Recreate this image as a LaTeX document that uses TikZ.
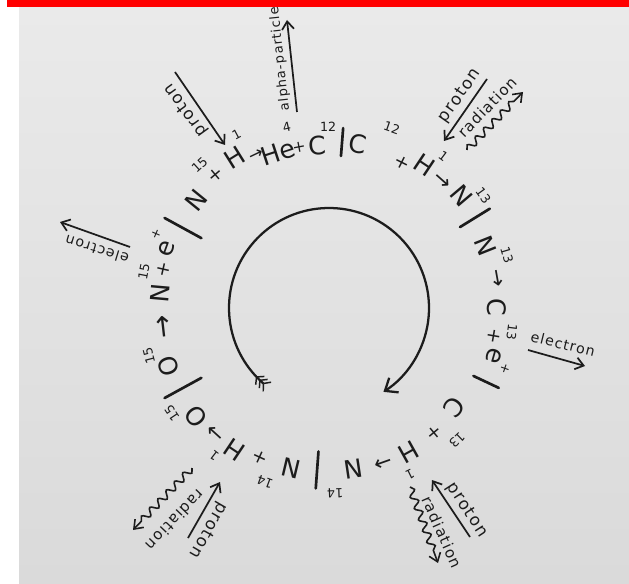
\documentclass[tikz,border=0pt]{standalone}
\usepackage{fontspec}
\setmainfont{DejaVu Sans}
\newfontfamily\labfont[LetterSpace=8]{DejaVu Sans}
\usetikzlibrary{arrows.meta,decorations.pathmorphing}
\definecolor{ink}{HTML}{1C1C1C}
\definecolor{papertop}{HTML}{EAEAEA}
\definecolor{paperbot}{HTML}{DADADA}
\newcommand\ringtok[5]{\node[#4, rotate={#2-90}] (#1) at (#2:#3) {#5};}
\newcommand\ringsep[4]{\draw[sepline] (#2:{#3-#4/2}) coordinate (#1a) -- (#2:{#3+#4/2}) coordinate (#1b);}
\newcommand\feather[1]{\begin{scope}[shift={(#1:100)}, rotate={#1-90}]\draw[ink, line width=1.1pt] (0,0) -- (-5,6) (0,0) -- (-5,-6);\end{scope}}
\begin{document}
\begin{tikzpicture}[x=0.75pt,y=0.75pt,
  big/.style={text=ink, inner sep=0pt, font=\fontsize{19}{19}\selectfont},
  plus/.style={text=ink, inner sep=0pt, font=\fontsize{14}{14}\selectfont},
  smallplus/.style={text=ink, inner sep=0pt, font=\fontsize{12}{12}\selectfont},
  arr/.style={text=ink, inner sep=0pt, font=\fontsize{16}{16}\selectfont},
  arrs/.style={text=ink, inner sep=0pt, font=\fontsize{13}{13}\selectfont},
  arrl/.style={text=ink, inner sep=0pt, font=\fontsize{21}{21}\selectfont},
  sm/.style={text=ink, inner sep=0pt, font=\fontsize{9.5}{9.5}\selectfont},
  sepline/.style={draw=ink, line width=2pt, line cap=round},
  lab/.style={text=ink, inner sep=0pt},
  ptr/.style={draw=ink, line width=1.3pt, -{Straight Barb[length=6pt,width=9pt]}},
  wavy/.style={draw=ink, line width=1.2pt, decorate, decoration={snake, amplitude=2.6pt, segment length=9pt, post length=6pt}, -{Straight Barb[length=6pt,width=9pt]}},
]
\useasboundingbox (0,0) rectangle (629,583);
% paper
\fill[white] (0,0) rectangle (629,583);
\shade[top color=papertop, bottom color=paperbot] (19,0) rectangle (629,576);
\fill[red] (7,576) rectangle (629,583);

\begin{scope}[shift={(329,275)}]
% ring of reactions (clockwise, tops outward)
\ringtok{n1}{108.1}{164}{big}{He}
\ringtok{s1}{103.1}{186}{sm}{4}
\ringtok{n2}{100.6}{163}{smallplus}{+}
\ringtok{n3}{94.2}{163}{big}{C}
\ringtok{s3}{90.3}{181}{sm}{12}
\ringsep{p1}{85.5}{166.5}{28}
\ringtok{n4}{80}{166.5}{big}{C}
\ringtok{s4}{70.8}{191}{sm}{12}
\ringtok{n5}{63.3}{163}{plus}{+}
\ringtok{n6}{56.3}{172}{big}{H}
\ringtok{s6}{53}{190}{sm}{1}
\ringtok{a6}{48.3}{170}{arr}{→}
\ringtok{n7}{40.3}{174}{big}{N}
\ringtok{s7}{36.1}{191}{sm}{13}
\ringsep{p2}{31.7}{171.5}{35}
\ringtok{n8}{21.7}{168}{big}{N}
\ringtok{s8}{16.6}{185.7}{sm}{13}
\ringtok{a8}{10}{170.5}{arr}{→}
\ringtok{n9}{0.3}{168}{big}{C}
\ringtok{s9}{-7.5}{184.6}{sm}{13}
\ringtok{n10}{-9.8}{167.7}{plus}{+}
\ringtok{n11}{-16.2}{171.6}{big}{e}
\ringtok{s11}{-19}{186}{sm}{+}
\ringsep{p3}{-25.2}{173.6}{28}
\ringtok{n12}{-38.3}{160}{big}{C}
\ringtok{s12}{-45.9}{184}{sm}{13}
\ringtok{n13}{-50}{163.2}{plus}{+}
\ringtok{n14}{-60.9}{164.7}{big}{H}
\ringtok{s14}{-64}{184.7}{sm}{1}
\ringtok{a14}{-70.5}{163}{arr}{→}
\ringtok{n15}{-81.5}{162.8}{big}{N}
\ringtok{s15}{-88.1}{185}{sm}{14}
\ringsep{p4}{-94.2}{162.4}{37}
\ringtok{n16}{-103.4}{164.5}{big}{N}
\ringtok{s16}{-110.2}{185.4}{sm}{14}
\ringtok{n17}{-114.7}{165}{plus}{+}
\ringtok{n18}{-123.8}{170.8}{big}{H}
\ringtok{s18}{-127.8}{187.4}{sm}{1}
\ringtok{a18}{-132.3}{168.5}{arr}{→}
\ringtok{n19}{-140.7}{172}{big}{O}
\ringtok{s19}{-146.2}{189}{sm}{15}
\ringsep{p5}{-151.3}{166.5}{42}
\ringtok{n20}{-160.2}{171}{big}{O}
\ringtok{s20}{-165.1}{186.3}{sm}{15}
\ringtok{a20}{-173.5}{165.7}{arrl}{→}
\ringtok{n21}{174.9}{169.7}{big}{N}
\ringtok{s21}{169}{188.5}{sm}{15}
\ringtok{n22}{167}{169.3}{plus}{+}
\ringtok{n23}{160}{172.4}{big}{e}
\ringtok{s23}{157}{188}{sm}{+}
\ringsep{p6}{151.3}{166.5}{42}
\ringtok{n24}{140.9}{171.3}{big}{N}
\ringtok{s24}{132.1}{193}{sm}{15}
\ringtok{n25}{130.4}{174.5}{plus}{+}
\ringtok{n26}{122}{177.3}{big}{H}
\ringtok{s26}{118}{197}{sm}{1}
\ringtok{a26}{115.5}{169}{arrs}{→}

% central cycle arrow
\draw[ink, line width=1.7pt, -{Straight Barb[length=8pt,width=13pt]}]
  (229:100) coordinate (ctail) arc[start angle=229, end angle=-57, radius=100] coordinate (chead);
\feather{229}
\feather{226.3}
\feather{223.6}
\end{scope}

% outer particle arrows and labels
\coordinate (tlA) at (175,511); \coordinate (tlB) at (225,438);
\draw[ptr] (tlA) -- (tlB);
\node[lab, rotate=126, font={\labfont\fontsize{12.5}{12.5}\selectfont}] (tlL) at (186,473) {proton};

\coordinate (alA) at (297,471); \coordinate (alB) at (287,563);
\draw[ptr] (alA) -- (alB);
\node[lab, rotate=96, font={\labfont\fontsize{9.8}{9.8}\selectfont}] (alL) at (280,524) {alpha-particle};

\coordinate (trA) at (487,504); \coordinate (trB) at (444,442);
\draw[ptr] (trA) -- (trB);
\node[lab, rotate=55, font={\labfont\fontsize{12.5}{12.5}\selectfont}] (trL) at (460,487) {proton};
\coordinate (trwA) at (467,433); \coordinate (trwB) at (523,491);
\draw[wavy] (trwA) -- (trwB);
\node[lab, rotate=46, font={\labfont\fontsize{11.3}{11.3}\selectfont}] (trwL) at (487,476) {radiation};

\coordinate (reA) at (528,233); \coordinate (reB) at (585,217);
\draw[ptr] (reA) -- (reB);
\node[lab, rotate=-14, font={\labfont\fontsize{10.6}{10.6}\selectfont}] (reL) at (563,239) {electron};

\coordinate (brA) at (470,46); \coordinate (brB) at (432,103);
\draw[ptr] (brA) -- (brB);
\node[lab, rotate=-57, font={\labfont\fontsize{12.5}{12.5}\selectfont}] (brL) at (467,73) {proton};
\coordinate (brwA) at (410,96); \coordinate (brwB) at (438,20);
\draw[wavy] (brwA) -- (brwB);
\node[lab, rotate=-66, font={\labfont\fontsize{11.3}{11.3}\selectfont}] (brwL) at (442,51) {radiation};

\coordinate (blA) at (188,45); \coordinate (blB) at (220,101);
\draw[ptr] (blA) -- (blB);
\node[lab, rotate=-120, font={\labfont\fontsize{12.5}{12.5}\selectfont}] (blL) at (208,53) {proton};
\coordinate (blwA) at (192,115); \coordinate (blwB) at (133,53);
\draw[wavy] (blwA) -- (blwB);
\node[lab, rotate=-133.6, font={\labfont\fontsize{11.3}{11.3}\selectfont}] (blwL) at (175,63) {radiation};

\coordinate (leA) at (130,336); \coordinate (leB) at (60,361);
\draw[ptr] (leA) -- (leB);
\node[lab, rotate=163, font={\labfont\fontsize{10.6}{10.6}\selectfont}] (leL) at (97,333) {electron};
\end{tikzpicture}
\end{document}
